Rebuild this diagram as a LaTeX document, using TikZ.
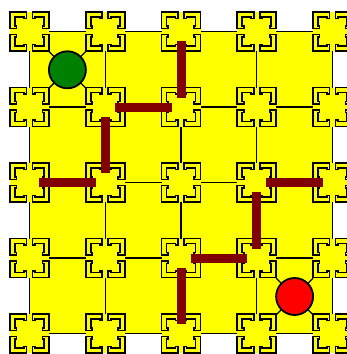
\documentclass[tikz,border=0pt]{standalone}
\usetikzlibrary{calc}
\definecolor{boardyellow}{HTML}{FFFF00}
\definecolor{wallred}{HTML}{800000}
\definecolor{goalgreen}{HTML}{008000}
\definecolor{goalred}{HTML}{FF0000}
\tikzset{
  gridline/.style={draw=black,line width=1.3pt},
  pegline/.style={draw=black,fill=boardyellow,line width=1.7pt,line join=miter},
  wallbar/.style={draw=wallred,line width=9pt,line cap=butt},
  diagline/.style={draw=black,line width=1.3pt},
  token/.style={circle,draw=black,line width=1.8pt,minimum size=37pt,inner sep=0pt}
}
\begin{document}
\begin{tikzpicture}[x=1pt,y=-1pt]
\useasboundingbox (0,0) rectangle (347,354);
\clip (0,0) rectangle (347,354);
% board cells
\fill[boardyellow] (29.5,31.5) rectangle (332.5,333.5);
\foreach \px in {29.5,105.25,181,256.75,332.5}{
  \draw[gridline] (\px,31.5) -- (\px,333.5);
}
\foreach \py in {31.5,107,182.5,258,333.5}{
  \draw[gridline] (29.5,\py) -- (332.5,\py);
}
% peg coordinates
\foreach \px [count=\i from 0] in {29.5,105.25,181,256.75,332.5}{
  \foreach \py [count=\j from 0] in {31.5,107,182.5,258,333.5}{
    \coordinate (p-\i-\j) at (\px,\py);
  }
}
% pegs
\foreach \px in {29.5,105.25,181,256.75,332.5}{
  \foreach \py in {31.5,107,182.5,258,333.5}{
    \begin{scope}[shift={(\px,\py)}]
      \fill[boardyellow] (-19.5,-19.5) rectangle (19.5,19.5);
      \foreach \r in {0,90,180,270}{
        \draw[pegline,rotate=\r] (-19.5,-19.5) -- (-3,-19.5) -- (-3,-13)
          -- (-5.5,-13) -- (-5.5,-14.5) -- (-14.5,-14.5) -- (-14.5,-5.5)
          -- (-13,-5.5) -- (-13,-3) -- (-19.5,-3) -- cycle;
      }
    \end{scope}
  }
}
% tokens with corner diagonals
\coordinate (gc) at (67.4,69.8);
\coordinate (rc) at (294.6,296.5);
\foreach \c in {gc,rc}{
  \foreach \dx/\dy in {18.4/18.3,-18.4/18.3,18.4/-18.3,-18.4/-18.3}{
    \draw[diagline] (\c) -- ++(\dx,\dy);
  }
}
\node[token,fill=goalgreen] (green) at (gc) {};
\node[token,fill=goalred] (red) at (rc) {};
% walls
\foreach \a/\b in {p-2-0/p-2-1, p-1-1/p-2-1, p-1-1/p-1-2, p-0-2/p-1-2,
                   p-3-2/p-4-2, p-3-2/p-3-3, p-2-3/p-3-3, p-2-3/p-2-4}{
  \draw[wallbar] ($(\a)!9.5pt!(\b)$) -- ($(\b)!9.5pt!(\a)$);
}
\end{tikzpicture}
\end{document}
